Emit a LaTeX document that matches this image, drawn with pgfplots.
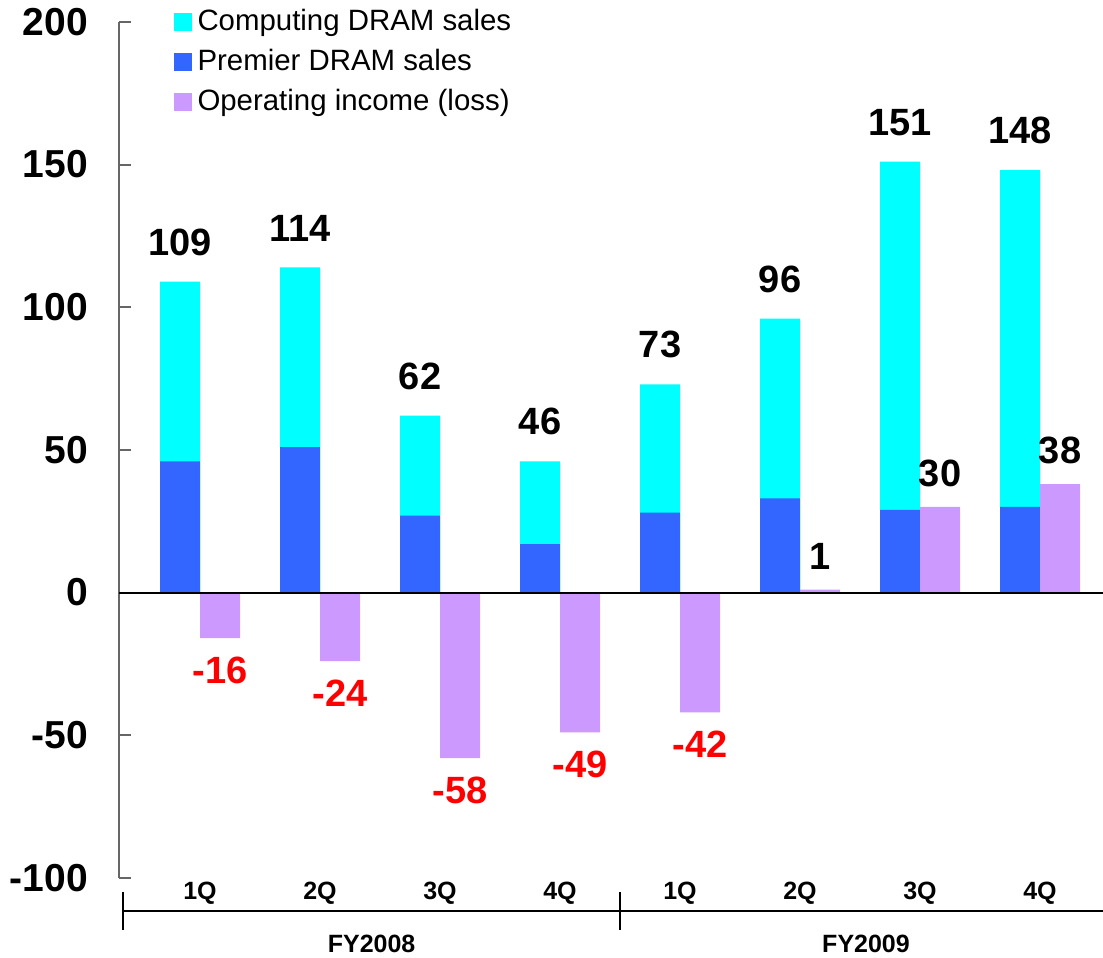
\documentclass[border=0pt]{standalone}
\usepackage{fontspec}
\setmainfont{Liberation Sans}
\usepackage{pgfplots}
\pgfplotsset{compat=1.18}
\definecolor{cComp}{HTML}{00FFFF}
\definecolor{cPrem}{HTML}{3366FF}
\definecolor{cInc}{HTML}{CC99FF}
\definecolor{cRed}{HTML}{FF0000}
\definecolor{cAxis}{HTML}{666666}
\begin{document}
\begin{tikzpicture}
\begin{axis}[
  scale only axis, width=492pt, height=428pt,
  xmin=-0.675, xmax=7.525, ymin=-100, ymax=200,
  axis y line*=left, axis x line*=bottom,
  x axis line style={draw=none},
  y axis line style={draw=cAxis, line width=1pt},
  ytick={-100,-50,...,200},
  ytick style={draw=cAxis, line width=1pt},
  tick align=inside, major tick length=6pt,
  xtick={0,...,7}, xtick style={draw=none},
  xticklabels={1Q,2Q,3Q,4Q,1Q,2Q,3Q,4Q},
  xticklabel style={font=\fontsize{12.5}{15}\selectfont\bfseries, anchor=center, yshift=-1.5pt},
  yticklabel style={font=\fontsize{19.5}{23}\selectfont\bfseries, xshift=-12pt},
  /pgf/number format/assume math mode=true,
  clip=false,
  ybar, bar width=0.3333,
  legend image code/.code={\fill[#1] (0pt,-4.5pt) rectangle (9pt,4.5pt);},
  legend cell align=left,
  legend style={draw=none, fill=none, inner sep=0pt, at={(0.055,1.019)}, anchor=north west,
    font=\fontsize{14.7}{17}\selectfont, row sep=4pt, column sep=2pt,
    nodes={inner sep=1pt, text height=11pt, text depth=3pt}},
]
% Total sales (Computing + Premier); cyan visible part = Computing DRAM sales
\addplot[fill=cComp, draw=none, bar shift=-0.16667,
  nodes near coords, nodes near coords style={font=\fontsize{19}{23}\selectfont\bfseries, black, yshift=9.5pt}]
  coordinates {(0,109) (1,114) (2,62) (3,46) (4,73) (5,96) (6,151) (7,148)};
\addlegendentry{Computing DRAM sales}
% Premier DRAM sales
\addplot[fill=cPrem, draw=none, bar shift=-0.16667]
  coordinates {(0,46) (1,51) (2,27) (3,17) (4,28) (5,33) (6,29) (7,30)};
\addlegendentry{Premier DRAM sales}
% Operating income (loss) - losses
\addplot[fill=cInc, draw=none, bar shift=0.16667,
  nodes near coords, nodes near coords style={font=\fontsize{19}{23}\selectfont\bfseries, cRed, yshift=-5.7pt}]
  coordinates {(0,-16) (1,-24) (2,-58) (3,-49) (4,-42)};
\addlegendentry{Operating income (loss)}
% Operating income (loss) - profits
\addplot[fill=cInc, draw=none, bar shift=0.16667, forget plot,
  nodes near coords, nodes near coords style={font=\fontsize{19}{23}\selectfont\bfseries, black, yshift=6.7pt}]
  coordinates {(5,1) (6,30) (7,38)};
% zero line
\draw[black, line width=1pt] (axis cs:-0.675,0) -- (axis cs:7.525,0);
% group axis
\draw[black, line width=0.8pt] (axis cs:-0.64,-111.7) -- (axis cs:7.525,-111.7);
\draw[black, line width=0.8pt] (axis cs:-0.64,-105.0) -- (axis cs:-0.64,-118.3);
\draw[black, line width=0.8pt] (axis cs:3.5,-105.0) -- (axis cs:3.5,-118.3);
\node[font=\fontsize{12.5}{15}\selectfont\bfseries] at (axis cs:1.43,-123.2) {FY2008};
\node[font=\fontsize{12.5}{15}\selectfont\bfseries] at (axis cs:5.55,-123.2) {FY2009};
\coordinate (TL) at (axis cs:-1.6667,207.67);
\coordinate (BR) at (axis cs:7.525,-127.77);
\end{axis}
\pgfresetboundingbox
\path[use as bounding box] (TL) rectangle (BR);
\end{tikzpicture}
\end{document}
